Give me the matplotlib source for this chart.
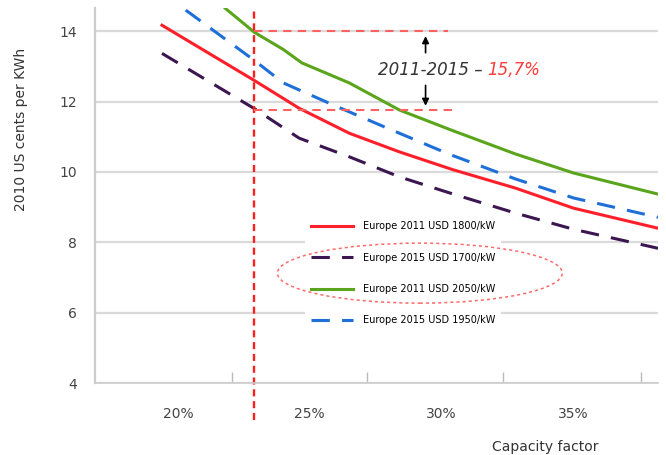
import matplotlib.pyplot as plt
from matplotlib.patches import Ellipse

# capacity factor (%) and LCOE (2010 US cents per kWh)
red_x = [19.4, 22.9, 24.6, 26.5, 28.4, 30.4, 32.8, 35.0, 38.2]
red_y = [14.17, 12.6, 11.81, 11.1, 10.57, 10.07, 9.54, 8.97, 8.4]

purple_x = [19.4, 22.9, 24.6, 26.5, 28.4, 30.4, 32.8, 35.0, 38.2]
purple_y = [13.37, 11.8, 10.96, 10.43, 9.86, 9.38, 8.83, 8.37, 7.83]

green_x = [21.8, 22.9, 24.0, 24.7, 26.5, 28.4, 30.4, 32.8, 35.0, 38.2]
green_y = [14.65, 13.97, 13.48, 13.1, 12.53, 11.76, 11.18, 10.51, 9.97, 9.37]

blue_x = [20.3, 22.9, 24.0, 25.9, 27.8, 30.3, 32.8, 35.0, 38.2]
blue_y = [14.6, 13.17, 12.53, 11.9, 11.29, 10.5, 9.8, 9.26, 8.71]

labels = ["Europe 2011 USD 1800/kW", "Europe 2015 USD 1700/kW",
          "Europe 2011 USD 2050/kW", "Europe 2015 USD 1950/kW"]
x_ticks = [20, 25, 30, 35]
x_ticklabels = ["20%", "25%", "30%", "35%"]
x_minor = [22.05, 27.16, 32.31, 37.54]
y_ticks = [4, 6, 8, 10, 12, 14]

cf_mark = 22.9      # capacity factor of the vertical marker
lcoe_2011 = 14.0
lcoe_2015 = 11.77
arrow_x = 29.39

fig = plt.figure(figsize=(6.66, 4.55), dpi=100)
ax = fig.add_axes([0.1426, 0.1582, 0.8454, 0.8242])

ax.plot(red_x, red_y, color="#ff1f2a", lw=2.2, label=labels[0])
ax.plot(purple_x, purple_y, color="#3b1650", lw=2.2, dashes=(6, 4), label=labels[1])
ax.plot(green_x, green_y, color="#5aa51c", lw=2.2, label=labels[2])
ax.plot(blue_x, blue_y, color="#1e6fd8", lw=2.2, dashes=(6, 4), label=labels[3])

ax.set_xlim(16.86, 38.2)
ax.set_ylim(4, 14.66)

ax.set_yticks(y_ticks)
ax.set_yticklabels([str(v) for v in y_ticks])
ax.set_xticks(x_ticks)
ax.set_xticklabels(x_ticklabels)
ax.set_xticks(x_minor, minor=True)
ax.tick_params(axis="both", which="major", length=0, labelsize=10, colors="#444444")
ax.tick_params(axis="y", pad=13)
ax.tick_params(axis="x", pad=17)
ax.tick_params(axis="x", which="minor", direction="in", length=8, width=1, color="#bbbbbb")

ax.grid(axis="y", color="#dadada", lw=1.6)
ax.set_axisbelow(True)
for s in ["top", "right"]:
    ax.spines[s].set_visible(False)
ax.spines["left"].set_color("#cccccc")
ax.spines["left"].set_linewidth(1.6)
ax.spines["bottom"].set_color("#cccccc")
ax.spines["bottom"].set_linewidth(1.2)

ax.set_ylabel("2010 US cents per KWh", fontsize=10, color="#333333")
ax.yaxis.set_label_coords(-0.119, 0.675)
ax.set_xlabel("Capacity factor", fontsize=10, color="#333333")
ax.xaxis.set_label_coords(0.80, -0.152)

# marker lines
ax.axvline(cf_mark, ymin=-0.099, ymax=1, color="#ff1f1f", lw=1.7, dashes=(3, 2), clip_on=False)
ax.plot([cf_mark, 30.23], [lcoe_2011, lcoe_2011], color="#ff6060", lw=1.5, dashes=(4, 3))
ax.plot([cf_mark, 30.49], [lcoe_2015, lcoe_2015], color="#ff6060", lw=1.5, dashes=(4, 3))

ax.annotate("", xy=(arrow_x, 13.94), xytext=(arrow_x, 13.31),
            arrowprops=dict(arrowstyle="-|>", color="black", lw=1.2, mutation_scale=10))
ax.annotate("", xy=(arrow_x, 11.80), xytext=(arrow_x, 12.54),
            arrowprops=dict(arrowstyle="-|>", color="black", lw=1.2, mutation_scale=10))

t = ax.text(27.58, 12.89, "2011-2015 \u2013 ", fontsize=12, style="italic",
            color="#333333", va="center", ha="left")
fig.canvas.draw()
bb = t.get_window_extent().transformed(ax.transData.inverted())
ax.text(bb.x1, 12.89, "15,7%", fontsize=12, style="italic",
        color="#ff3b3b", va="center", ha="left")

leg = ax.legend(loc="upper left", bbox_to_anchor=(0.365, 0.46), fontsize=7,
                frameon=True, facecolor="white", edgecolor="none", framealpha=1,
                fancybox=False, labelspacing=2.2, handlelength=4.3,
                handletextpad=1.0, borderpad=0.6)

ell = Ellipse((0.577, 0.293), 0.506, 0.16, transform=ax.transAxes,
              fill=False, edgecolor="#ff6a6a", lw=1.1, ls=(0, (2, 2)), zorder=6)
ax.add_patch(ell)

fig.savefig("out.png", dpi=100)
